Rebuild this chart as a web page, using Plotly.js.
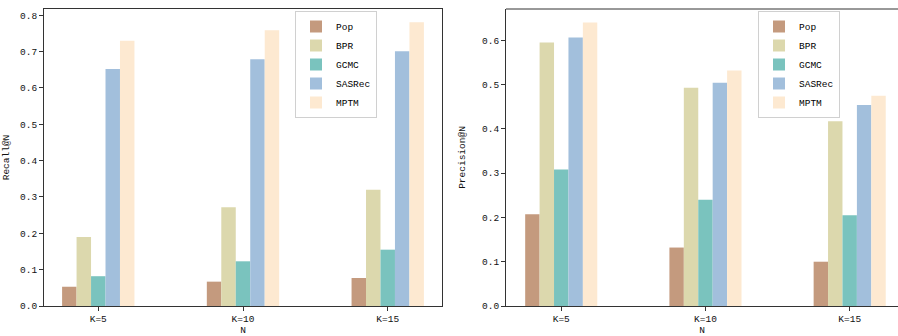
<!DOCTYPE html>
<html>
<head>
<meta charset="utf-8">
<script src="https://cdn.plot.ly/plotly-3.0.1.min.js"></script>
<style>html,body{margin:0;padding:0;background:#fff;}#chart{width:898px;height:336px;}</style>
</head>
<body>
<div id="chart"></div>
<script>
const categories = ['K=5', 'K=10', 'K=15'];
const methods = ['Pop', 'BPR', 'GCMC', 'SASRec', 'MPTM'];
const recallPop = [0.053, 0.067, 0.077];
const recallBPR = [0.190, 0.272, 0.320];
const recallGCMC = [0.082, 0.123, 0.155];
const recallSASRec = [0.652, 0.679, 0.701];
const recallMPTM = [0.730, 0.759, 0.781];
const precisionPop = [0.207, 0.132, 0.100];
const precisionBPR = [0.595, 0.493, 0.417];
const precisionGCMC = [0.308, 0.240, 0.205];
const precisionSASRec = [0.606, 0.504, 0.454];
const precisionMPTM = [0.640, 0.532, 0.475];
const yTicks = [0, 0.1, 0.2, 0.3, 0.4, 0.5, 0.6, 0.7, 0.8];

const colors = ['#c49a7e', '#dcd8ad', '#7ac3be', '#a2bfdc', '#fde9d1'];
const recall = [recallPop, recallBPR, recallGCMC, recallSASRec, recallMPTM];
const precision = [precisionPop, precisionBPR, precisionGCMC, precisionSASRec, precisionMPTM];

const FONT = 'Liberation Mono, DejaVu Sans Mono, monospace';
const traces = [];
methods.forEach((m, i) => {
  traces.push({type: 'bar', name: m, x: categories, y: recall[i], xaxis: 'x', yaxis: 'y',
    marker: {color: colors[i], line: {width: 0}}, legend: 'legend', offsetgroup: String(i)});
});
methods.forEach((m, i) => {
  traces.push({type: 'bar', name: m, x: categories, y: precision[i], xaxis: 'x2', yaxis: 'y2',
    marker: {color: colors[i], line: {width: 0}}, legend: 'legend2', offsetgroup: String(i)});
});

const axCommon = {
  showline: true, linecolor: '#333', linewidth: 1, ticks: 'outside', ticklen: 4,
  tickcolor: '#333', showgrid: false, zeroline: false,
  tickfont: {family: FONT, size: 9.5, color: '#111'}
};
const legCommon = {
  bgcolor: 'rgba(255,255,255,0.8)', bordercolor: '#d0d0d0', borderwidth: 1,
  font: {family: FONT, size: 9.5, color: '#000'}, xanchor: 'left', yanchor: 'top',
  tracegroupgap: 0
};

const layout = {
  width: 898, height: 336,
  margin: {l: 0, r: 0, t: 0, b: 0},
  paper_bgcolor: '#fff', plot_bgcolor: '#fff',
  barmode: 'group', bargap: 0.5, bargroupgap: 0,
  showlegend: true,
  xaxis: Object.assign({}, axCommon, {domain: [44/898, 442/898], anchor: 'y', mirror: true,
    type: 'category', range: [-0.375, 2.375],
    title: {text: 'N', font: {family: FONT, size: 9.5, color: '#111'}, standoff: 5}}),
  yaxis: Object.assign({}, axCommon, {domain: [1 - 306/336, 1 - 9/336], anchor: 'x', mirror: true,
    range: [0, 0.8173], tickvals: yTicks, tickformat: '.1f',
    title: {text: 'Recall@N', font: {family: FONT, size: 9.5, color: '#111'}, standoff: 8}}),
  xaxis2: Object.assign({}, axCommon, {domain: [506/898, 1], anchor: 'y2', mirror: false,
    type: 'category', range: [-0.383, 2.335],
    title: {text: 'N', font: {family: FONT, size: 9.5, color: '#111'}, standoff: 5}}),
  yaxis2: Object.assign({}, axCommon, {domain: [1 - 306/336, 1 - 9/336], anchor: 'x2', mirror: false,
    range: [0, 0.6706], tickvals: yTicks, tickformat: '.1f',
    title: {text: 'Precision@N', font: {family: FONT, size: 9.5, color: '#111'}, standoff: 14}}),
  legend: Object.assign({}, legCommon, {x: 295/898, y: 1 - 11/336}),
  legend2: Object.assign({}, legCommon, {x: 758/898, y: 1 - 11/336}),
  shapes: [
    {type: 'line', xref: 'paper', yref: 'paper', x0: 506/898, x1: 1, y0: 1 - 9/336, y1: 1 - 9/336,
      line: {color: '#333', width: 1}}
  ]
};

Plotly.newPlot('chart', traces, layout, {displayModeBar: false, staticPlot: true});
</script>
</body>
</html>
